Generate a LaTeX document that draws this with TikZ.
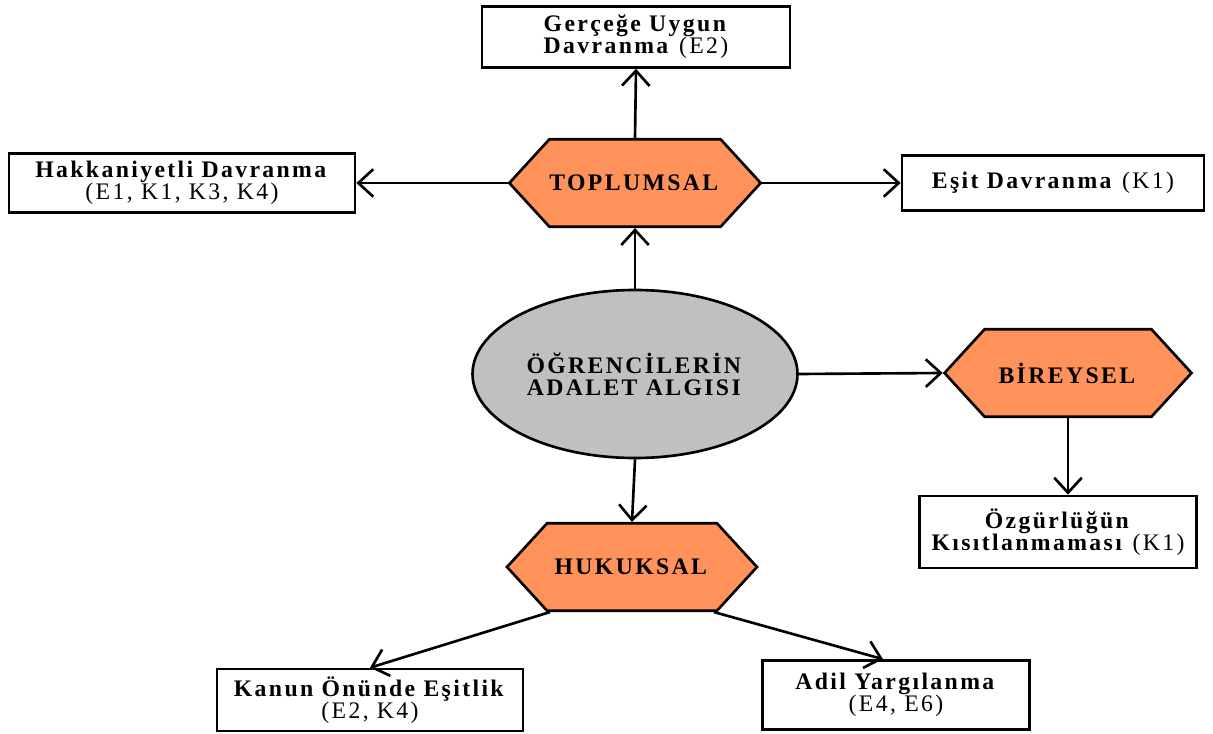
\documentclass[tikz,border=0pt]{standalone}
\usepackage{fontspec}
\setmainfont{Liberation Serif}[LetterSpace=10]
\usetikzlibrary{arrows.meta, shapes.geometric, shapes.symbols}
\definecolor{hexorange}{RGB}{255,146,91}
\definecolor{ovalgray}{RGB}{192,192,192}

\begin{document}
\begin{tikzpicture}[
    every node/.style={font=\fontsize{13.5}{12.5}\selectfont, align=center},
    kutu/.style={draw, line width=1.5pt, fill=white, inner sep=2pt},
    altigen/.style={signal, signal to=east and west, signal pointer angle=95, draw, line width=1.5pt, fill=hexorange, minimum width=5cm, minimum height=1.75cm, inner sep=0pt},
    ok/.style={line width=1.5pt, -{Straight Barb[length=3mm, width=5.5mm]}}
  ]
    \useasboundingbox (0,0) rectangle (24.26,14.66);
    \node[kutu, minimum width=6.16cm, minimum height=1.22cm] (gercege) at (12.72,13.92) {\textbf{Gerçeğe Uygun}\\\textbf{Davranma} (E2)};
    \node[kutu, minimum width=6.92cm, minimum height=1.18cm] (hakk) at (3.64,11.00) {\textbf{Hakkaniyetli Davranma}\\(E1, K1, K3, K4)};
    \node[kutu, minimum width=6.04cm, minimum height=1.10cm] (esit) at (21.06,11.00) {\textbf{Eşit Davranma} (K1)};
    \node[altigen] (topl) at (12.70,11.00) {\textbf{TOPLUMSAL}};
    \node[ellipse, draw, line width=1.5pt, fill=ovalgray, minimum width=6.5cm, minimum height=3.36cm] (ogr) at (12.70,7.18) {\textbf{ÖĞRENCİLERİN}\\\textbf{ADALET ALGISI}};
    \node[altigen, minimum width=4.94cm] (bir) at (21.36,7.20) {\textbf{BİREYSEL}};
    \node[kutu, minimum width=5.54cm, minimum height=1.44cm] (ozg) at (21.16,4.02) {\textbf{Özgürlüğün}\\\textbf{Kısıtlanmaması} (K1)};
    \node[altigen] (huk) at (12.64,3.32) {\textbf{HUKUKSAL}};
    \node[kutu, minimum width=6.12cm, minimum height=1.24cm] (kanun) at (7.40,0.66) {\textbf{Kanun Önünde Eşitlik}\\(E2, K4)};
    \node[kutu, minimum width=5.34cm, minimum height=1.38cm] (adil) at (17.92,0.76) {\textbf{Adil Yargılanma}\\(E4, E6)};

    \draw[ok] (topl.north) -- (gercege.south);
    \draw[ok] (topl.west) -- (hakk.east);
    \draw[ok] (topl.east) -- (esit.west);
    \draw[ok] (ogr.north) -- (topl.south);
    \draw[ok] (ogr.east) -- (bir.west);
    \draw[ok] (bir.south) -- (bir.south |- ozg.north);
    \draw[ok] (ogr.south) -- (huk.north);
    \draw[ok] ([xshift=-1.64cm]huk.south) -- (kanun.north);
    \draw[ok] ([xshift=1.64cm]huk.south) -- ([xshift=-0.26cm]adil.north);
\end{tikzpicture}
\end{document}
